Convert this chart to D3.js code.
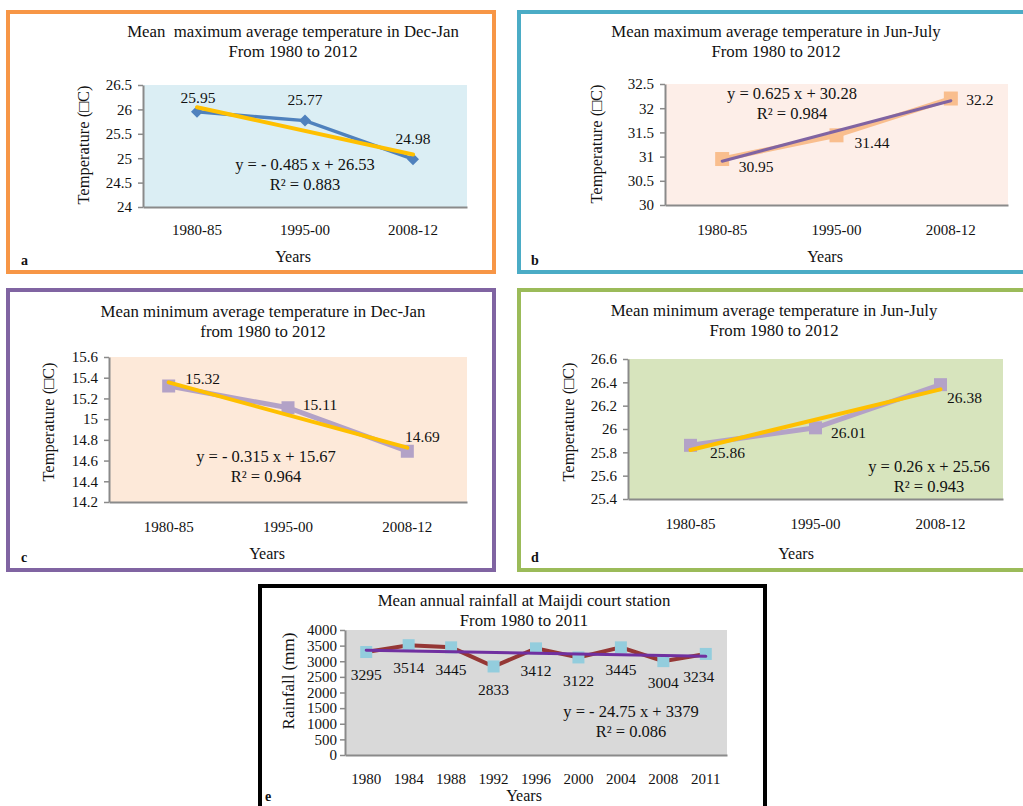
<!DOCTYPE html>
<html><head><meta charset="utf-8">
<script src="https://cdn.jsdelivr.net/npm/d3@7"></script>
<style>
body{margin:0;background:#fff;}
svg text{font-family:"Liberation Serif","Times New Roman",serif;fill:#111;}
</style></head><body>
<svg id="c" width="1023" height="806"></svg>
<script>
// ---- data ----
const periods = ["1980-85","1995-00","2008-12"];
const maxDecJan = [25.95, 25.77, 24.98];
const maxJunJul = [30.95, 31.44, 32.2];
const minDecJan = [15.32, 15.11, 14.69];
const minJunJul = [25.86, 26.01, 26.38];
const rainYears = ["1980","1984","1988","1992","1996","2000","2004","2008","2011"];
const rainfall = [3295, 3514, 3445, 2833, 3412, 3122, 3445, 3004, 3234];
const trendA = {slope:-0.485, intercept:26.53, r2:"0.883", eq:"y = - 0.485 x + 26.53"};
const trendB = {slope:0.625, intercept:30.28, r2:"0.984", eq:"y = 0.625 x + 30.28"};
const trendC = {slope:-0.315, intercept:15.67, r2:"0.964", eq:"y = - 0.315 x + 15.67"};
const trendD = {slope:0.26, intercept:25.56, r2:"0.943", eq:"y = 0.26 x + 25.56"};
const trendE = {slope:-24.75, intercept:3379, r2:"0.086", eq:"y = - 24.75 x + 3379"};
const ticksA = [24,24.5,25,25.5,26,26.5];
const ticksB = [30,30.5,31,31.5,32,32.5];
const ticksC = [14.2,14.4,14.6,14.8,15,15.2,15.4,15.6];
const ticksD = [25.4,25.6,25.8,26,26.2,26.4,26.6];
const ticksE = [0,500,1000,1500,2000,2500,3000,3500,4000];

const svg = d3.select("#c");
const FF = "Liberation Serif";

function panel(o){
  const g = svg.append("g");
  g.append("rect").attr("x",o.frame[0]).attr("y",o.frame[1]).attr("width",o.frame[2]).attr("height",o.frame[3])
    .attr("fill","#fff").attr("stroke",o.frameColor).attr("stroke-width",4);
  const [x0,y0,x1,y1] = o.plot;
  const x = d3.scaleBand().domain(o.cats).range([x0,x1]);
  const y = d3.scaleLinear().domain([o.ticks[0], o.ticks[o.ticks.length-1]]).range([y1,y0]);
  const cx = d => x(d)+x.bandwidth()/2;
  g.append("rect").attr("x",x0).attr("y",y0).attr("width",x1-x0).attr("height",y1-y0).attr("fill",o.bg);
  // y axis
  const ya = g.append("g").attr("transform",`translate(${x0},0)`)
    .call(d3.axisLeft(y).tickValues(o.ticks).tickSize(5).tickSizeOuter(0).tickFormat(d=>String(+d.toFixed(2))));
  ya.attr("font-family",FF);
  ya.select(".domain").attr("stroke","#8a8a8a").attr("stroke-width",2);
  ya.selectAll(".tick line").attr("stroke","#8a8a8a").attr("stroke-width",1.5);
  ya.selectAll(".tick text").attr("font-size",o.tickFs).attr("fill","#111").attr("x",o.ytx);
  // x axis
  const xa = g.append("g").attr("transform",`translate(0,${y1})`)
    .call(d3.axisBottom(x).tickSize(0).tickPadding(o.xpad));
  xa.attr("font-family",FF);
  xa.select(".domain").attr("stroke","#8a8a8a").attr("stroke-width",2);
  xa.selectAll(".tick text").attr("font-size",o.tickFs).attr("fill","#111");
  // titles
  o.title.forEach((t,i)=>{
    g.append("text").attr("x",o.titlePos[0]).attr("y",o.titlePos[1]+i*o.titleGap).attr("text-anchor","middle")
      .attr("font-size",o.tfs).attr("xml:space","preserve").style("white-space","pre").text(t);
  });
  g.append("text").attr("transform",`translate(${o.ylab[0]},${o.ylab[1]}) rotate(-90)`).attr("text-anchor","middle")
    .attr("font-size",o.yfs).text(o.ylabText);
  g.append("text").attr("x",o.xlab[0]).attr("y",o.xlab[1]).attr("text-anchor","middle").attr("font-size",16).text("Years");
  g.append("text").attr("x",o.letter[0]).attr("y",o.letter[1]).attr("font-size",14).attr("font-weight","bold").text(o.letterText);
  // series
  const line = d3.line().x((d,i)=>cx(o.cats[i])).y(d=>y(d));
  g.append("path").attr("d",line(o.vals)).attr("stroke",o.lineColor).attr("stroke-width",o.lineW).attr("fill","none");
  const ms = o.ms;
  o.vals.forEach((v,i)=>{
    const px = cx(o.cats[i]), py = y(v);
    if(o.marker==="diamond"){
      g.append("path").attr("d",`M${px},${py-ms/2}L${px+ms/2},${py}L${px},${py+ms/2}L${px-ms/2},${py}Z`).attr("fill",o.markerColor);
    } else {
      g.append("rect").attr("x",px-ms/2).attr("y",py-ms/2).attr("width",ms).attr("height",ms).attr("fill",o.markerColor);
    }
  });
  // trend
  const n = o.cats.length;
  const tr = [[o.cats[0], o.trend.intercept+o.trend.slope*1],[o.cats[n-1], o.trend.intercept+o.trend.slope*n]];
  g.append("path").attr("d",d3.line().x(d=>cx(d[0])).y(d=>y(d[1]))(tr))
    .attr("stroke",o.trendColor).attr("stroke-width",o.trendW).attr("fill","none").attr("stroke-linecap","round");
  // labels
  o.vals.forEach((v,i)=>{
    const off = o.labOff[i];
    g.append("text").attr("x",cx(o.cats[i])+off[0]).attr("y",y(v)+off[1]).attr("text-anchor","middle")
      .attr("font-size",o.labFs).text(String(v));
  });
  g.append("text").attr("x",o.eqPos[0]).attr("y",o.eqPos[1]).attr("text-anchor","middle").attr("font-size",o.eqFs).text(o.trend.eq);
  g.append("text").attr("x",o.eqPos[0]).attr("y",o.eqPos[1]+o.eqGap).attr("text-anchor","middle").attr("font-size",o.eqFs).text("R² = "+o.trend.r2);
}

const ylabT = "Temperature (\u25A1C)";
const common = {tickFs:15, labFs:15.5, eqFs:16.5, tfs:16.8, yfs:16.5, titleGap:20, eqGap:20, ytx:-11};

panel({...common, frame:[8,12,486,260], frameColor:"#F79646", plot:[143,85,467,207], bg:"#DBEEF4",
  cats:periods, vals:maxDecJan, ticks:ticksA, trend:trendA, xpad:17,
  title:["Mean  maximum average temperature in Dec-Jan","From 1980 to 2012"], titlePos:[293,37],
  ylab:[89,145], ylabText:ylabT, xlab:[293,262], letter:[21,265], letterText:"a",
  lineColor:"#4F81BD", lineW:3.5, marker:"diamond", markerColor:"#4F81BD", ms:12,
  trendColor:"#FFC000", trendW:4,
  labOff:[[1,-9],[0,-15.5],[0,-15]], eqPos:[305,170]});

panel({...common, frame:[519,12,510,260], frameColor:"#4BACC6", plot:[665,84,1008,205], bg:"#FDEEE8",
  cats:periods, vals:maxJunJul, ticks:ticksB, trend:trendB, xpad:19,
  title:["Mean maximum average temperature in Jun-July","From 1980 to 2012"], titlePos:[776,37],
  ylab:[602,144], ylabText:ylabT, xlab:[825,262], letter:[531,265], letterText:"b",
  lineColor:"#F9BE8E", lineW:5, marker:"square", markerColor:"#F9BE8E", ms:14,
  trendColor:"#8064A2", trendW:3,
  labOff:[[34,13],[35.5,12.7],[29,6.5]], eqPos:[792,99]});

panel({...common, frame:[8,290,486,280], frameColor:"#8064A2", plot:[109,357,467,502], bg:"#FDE9D9",
  cats:periods, vals:minDecJan, ticks:ticksC, trend:trendC, xpad:19,
  title:["Mean minimum average temperature in Dec-Jan","from 1980 to 2012"], titlePos:[263,317],
  ylab:[54,422], ylabText:ylabT, xlab:[267,559], letter:[21,562], letterText:"c",
  lineColor:"#B3A2C7", lineW:5, marker:"square", markerColor:"#B3A2C7", ms:13,
  trendColor:"#FFC000", trendW:4,
  labOff:[[34,-2],[32,2],[15,-9]], eqPos:[266,462]});

panel({...common, frame:[519,290,510,280], frameColor:"#9BBB59", plot:[628,359,1003,499], bg:"#D7E4BD",
  cats:periods, vals:minJunJul, ticks:ticksD, trend:trendD, xpad:19,
  title:["Mean minimum average temperature in Jun-July","From 1980 to 2012"], titlePos:[774,316],
  ylab:[574,422], ylabText:ylabT, xlab:[796,559], letter:[531,562], letterText:"d",
  lineColor:"#B3A2C7", lineW:5, marker:"square", markerColor:"#B3A2C7", ms:13,
  trendColor:"#FFC000", trendW:4,
  labOff:[[37,13],[33,10],[24,18]], eqPos:[929,472]});

panel({...common, ytx:-8, frame:[260,586,505,230], frameColor:"#000", plot:[345,630,727,755], bg:"#D9D9D9",
  cats:rainYears, vals:rainfall, ticks:ticksE, trend:trendE, xpad:18, labFs:15.5,
  title:["Mean annual rainfall at Maijdi court station","From 1980 to 2011"], titlePos:[524,606],
  ylab:[294,681], ylabText:"Rainfall (mm)", yfs:17, xlab:[524,801], letter:[265,801], letterText:"e",
  lineColor:"#953735", lineW:4, marker:"square", markerColor:"#93CDDD", ms:12,
  trendColor:"#7030A0", trendW:3,
  labOff:[[0,28],[0,28],[0,28],[0,28.5],[0,28],[0,29],[0,28],[0,27],[-7,28]], eqPos:[631,717]});
</script></body></html>
